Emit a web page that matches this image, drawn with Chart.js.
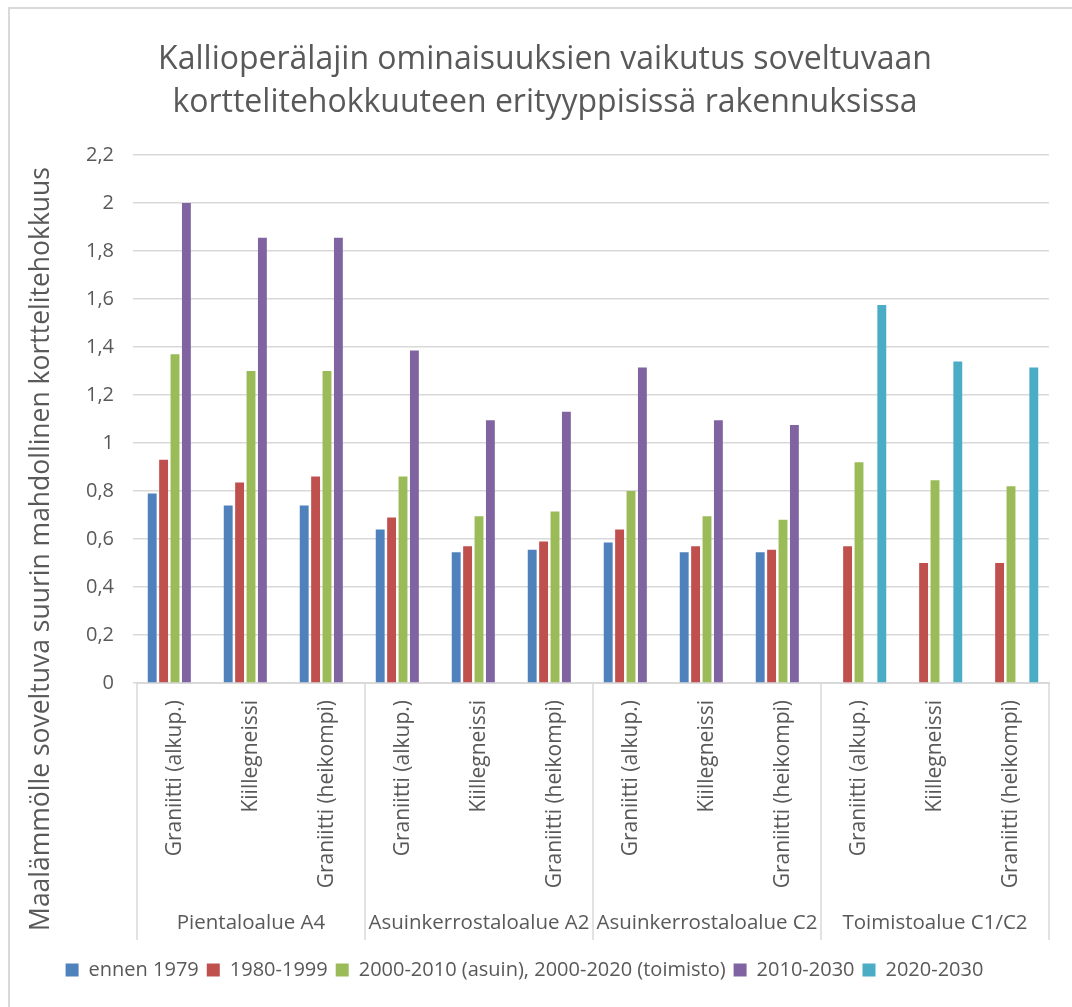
<!DOCTYPE html>
<html>
<head>
<meta charset="utf-8">
<script src="https://cdn.jsdelivr.net/npm/chart.js@4.4.1/dist/chart.umd.min.js"></script>
<style>
html,body{margin:0;padding:0;background:#fff;}
#wrap{width:1072px;height:1007px;position:relative;}
</style>
</head>
<body>
<div id="wrap"><canvas id="c" width="1072" height="1007"></canvas></div>
<script>
const titleLines = ["Kallioperälajin ominaisuuksien vaikutus soveltuvaan", "korttelitehokkuuteen erityyppisissä rakennuksissa"];
const yAxisTitle = "Maalämmölle soveltuva suurin mahdollinen korttelitehokkuus";
const categories = ["Graniitti (alkup.)","Kiillegneissi","Graniitti (heikompi)",
                    "Graniitti (alkup.)","Kiillegneissi","Graniitti (heikompi)",
                    "Graniitti (alkup.)","Kiillegneissi","Graniitti (heikompi)",
                    "Graniitti (alkup.)","Kiillegneissi","Graniitti (heikompi)"];
const groups = ["Pientaloalue A4","Asuinkerrostaloalue A2","Asuinkerrostaloalue C2","Toimistoalue C1/C2"];
const seriesNames = ["ennen 1979","1980-1999","2000-2010 (asuin), 2000-2020 (toimisto)","2010-2030","2020-2030"];
const ennen1979 = [0.79,0.74,0.74, 0.64,0.545,0.555, 0.585,0.545,0.545, null,null,null];
const s1980_1999 = [0.93,0.835,0.86, 0.69,0.57,0.59, 0.64,0.57,0.555, 0.57,0.50,0.50];
const s2000_2010 = [1.37,1.30,1.30, 0.86,0.695,0.715, 0.80,0.695,0.68, 0.92,0.845,0.82];
const s2010_2030 = [2.0,1.855,1.855, 1.385,1.095,1.13, 1.315,1.095,1.075, null,null,null];
const s2020_2030 = [null,null,null, null,null,null, null,null,null, 1.575,1.34,1.315];
const yTicksMax = 2.2, yTicksStep = 0.2;

const colors = ["#4F81BD","#C0504D","#9BBB59","#8064A2","#4BACC6"];
const seriesData = [ennen1979, s1980_1999, s2000_2010, s2010_2030, s2020_2030];
const FONT = "'Open Sans', 'DejaVu Sans', sans-serif";
const TXT = "#595959";
const GRID = "#d9d9d9";

const decor = {
  id: 'decor',
  afterDraw(chart) {
    const ctx = chart.ctx;
    const a = chart.chartArea;
    ctx.save();
    // frame
    ctx.strokeStyle = GRID; ctx.lineWidth = 2;
    ctx.beginPath(); ctx.moveTo(9, 1007); ctx.lineTo(9, 8); ctx.lineTo(1072, 8); ctx.stroke();
    // title
    ctx.fillStyle = TXT; ctx.textAlign = 'center'; ctx.textBaseline = 'middle';
    ctx.font = "32px " + FONT;
    ctx.fillText(titleLines[0], 545, 60);
    ctx.fillText(titleLines[1], 545, 103);
    // y title
    ctx.save();
    ctx.translate(41, 549); ctx.rotate(-Math.PI/2);
    ctx.font = "26.5px " + FONT;
    ctx.fillText(yAxisTitle, 0, 0);
    ctx.restore();
    // group dividers and labels
    const xs = chart.scales.x;
    const n = groups.length;
    const per = categories.length / n;
    ctx.strokeStyle = GRID; ctx.lineWidth = 1.5;
    ctx.font = "20.5px " + FONT;
    for (let i = 0; i <= n; i++) {
      let x;
      if (i === 0) x = a.left; else if (i === n) x = a.right;
      else x = (xs.getPixelForValue(i*per - 1) + xs.getPixelForValue(i*per)) / 2;
      ctx.beginPath(); ctx.moveTo(x, a.bottom); ctx.lineTo(x, 940); ctx.stroke();
    }
    for (let i = 0; i < n; i++) {
      const x = xs.getPixelForValue(i*per + (per-1)/2);
      ctx.fillText(groups[i], x, 923);
    }
    ctx.restore();
  }
};

new Chart(document.getElementById('c'), {
  type: 'bar',
  data: {
    labels: categories,
    datasets: seriesNames.map((name, i) => ({
      label: name,
      data: seriesData[i],
      backgroundColor: colors[i],
      borderWidth: 0,
      categoryPercentage: 0.75,
      barPercentage: 0.78
    }))
  },
  options: {
    responsive: false,
    animation: false,
    devicePixelRatio: 1,
    layout: { padding: { left: 0, right: 23, top: 155, bottom: 17 } },
    plugins: {
      title: { display: false },
      tooltip: { enabled: false },
      legend: {
        position: 'bottom',
        labels: {
          boxWidth: 13, boxHeight: 13, padding: 8,
          color: TXT, font: { family: FONT, size: 20 }
        }
      }
    },
    scales: {
      x: {
        grid: { display: false },
        border: { display: true, color: GRID, width: 2 },
        ticks: {
          autoSkip: false, maxRotation: 90, minRotation: 90, padding: 9,
          color: TXT, font: { family: FONT, size: 21 }
        },
        afterFit(scale) { scale.height = 269; }
      },
      y: {
        min: 0, max: yTicksMax,
        grid: { color: GRID, lineWidth: 1.5, drawTicks: true, tickLength: 4 },
        border: { display: false },
        ticks: {
          stepSize: yTicksStep, padding: 19,
          color: TXT, font: { family: FONT, size: 20 },
          callback: v => (Math.round(v*10)/10).toString().replace('.', ',')
        },
        afterFit(scale) { scale.width = 137; }
      }
    }
  },
  plugins: [decor]
});
</script>
</body>
</html>
